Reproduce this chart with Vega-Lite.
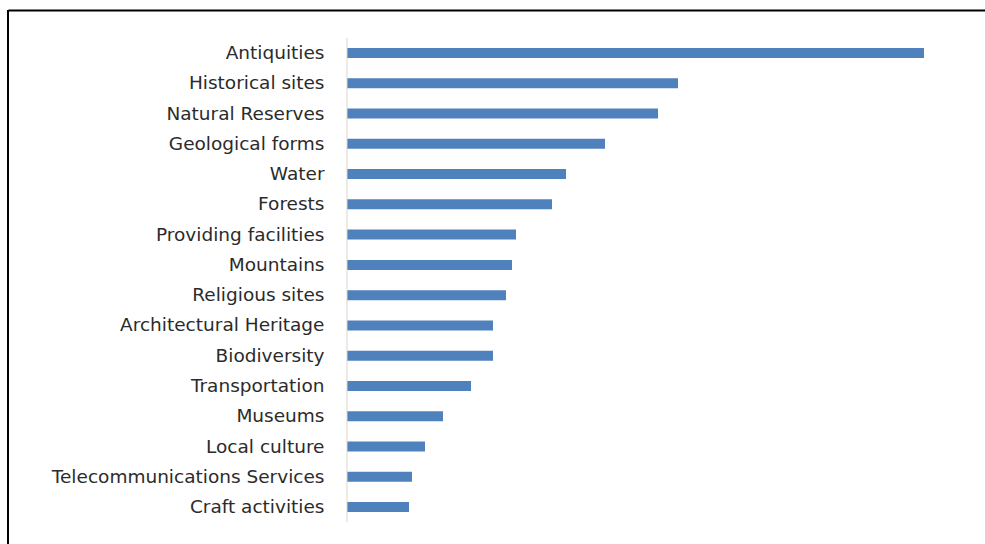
{
  "$schema": "https://vega.github.io/schema/vega-lite/v6.json",
  "width": 978,
  "height": 535,
  "padding": {"left": 7, "top": 9, "right": 0, "bottom": 0},
  "background": "white",
  "config": {
    "view": {"stroke": null},
    "font": "DejaVu Sans"
  },
  "data": {
    "values": [
      {"category": "Antiquities", "value": 577},
      {"category": "Historical sites", "value": 331},
      {"category": "Natural Reserves", "value": 311},
      {"category": "Geological forms", "value": 258},
      {"category": "Water", "value": 219},
      {"category": "Forests", "value": 205},
      {"category": "Providing facilities", "value": 169},
      {"category": "Mountains", "value": 165},
      {"category": "Religious sites", "value": 159},
      {"category": "Architectural Heritage", "value": 146},
      {"category": "Biodiversity", "value": 146},
      {"category": "Transportation", "value": 124},
      {"category": "Museums", "value": 96},
      {"category": "Local culture", "value": 78},
      {"category": "Telecommunications Services", "value": 65},
      {"category": "Craft activities", "value": 62}
    ]
  },
  "encoding": {
    "y": {
      "field": "category",
      "type": "nominal",
      "sort": null,
      "scale": {
        "domain": ["Antiquities", "Historical sites", "Natural Reserves", "Geological forms", "Water", "Forests", "Providing facilities", "Mountains", "Religious sites", "Architectural Heritage", "Biodiversity", "Transportation", "Museums", "Local culture", "Telecommunications Services", "Craft activities"],
        "paddingInner": 0,
        "paddingOuter": 0.836,
        "align": 0.55
      },
      "axis": {
        "title": null,
        "domain": false,
        "ticks": false,
        "offset": -339,
        "labelPadding": 23,
        "labelFontSize": 18.5,
        "labelColor": "#2b2b2b",
        "labelLimit": 0,
        "labelFont": "DejaVu Sans"
      }
    }
  },
  "layer": [
    {
      "mark": {"type": "bar", "color": "#4f81bd", "height": 10},
      "encoding": {
        "x": {
          "field": "value",
          "type": "quantitative",
          "scale": {"domain": [-339, 639], "nice": false, "zero": false},
          "axis": {
            "orient": "top",
            "title": null,
            "labels": false,
            "ticks": false,
            "grid": false,
            "domain": true,
            "domainColor": "black",
            "domainWidth": 2
          }
        }
      }
    },
    {
      "mark": {"type": "rule", "color": "#dcd6cc", "strokeWidth": 1},
      "encoding": {
        "x": {"datum": 0, "type": "quantitative"},
        "y": {"field": "category", "type": "nominal", "sort": null, "bandPosition": 0},
        "y2": {"field": "category", "bandPosition": 1}
      }
    },
    {
      "mark": {"type": "rule", "color": "black", "strokeWidth": 2},
      "encoding": {
        "x": {"datum": -339, "type": "quantitative"},
        "y": null
      }
    }
  ]
}
